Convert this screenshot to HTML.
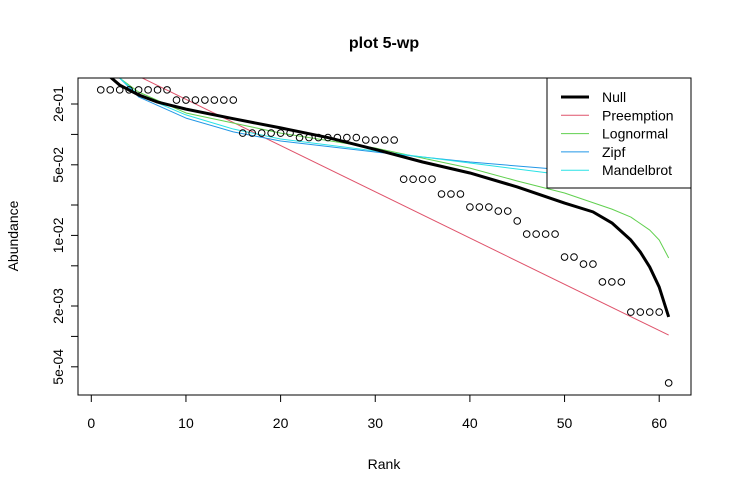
<!DOCTYPE html>
<html><head><meta charset="utf-8"><style>
body{margin:0;background:#fff}
svg{font-family:"Liberation Sans",Arial,sans-serif}
</style></head><body>
<svg width="732" height="493" viewBox="0 0 732 493">
<defs><clipPath id="pc"><rect x="78" y="78" width="613" height="317"/></clipPath></defs>
<rect width="732" height="493" fill="#fff"/>
<text x="384" y="48" text-anchor="middle" font-size="16" font-weight="bold">plot 5-wp</text>
<text x="384" y="469" text-anchor="middle" font-size="14">Rank</text>
<text transform="translate(18,236) rotate(-90)" text-anchor="middle" font-size="14">Abundance</text>
<g id="axes"></g>
<g id="series" clip-path="url(#pc)"></g>
<g id="pts"></g>
<rect x="78" y="78" width="613" height="317" fill="none" stroke="#000"/>
<g id="legend"></g>
</svg>
<script>
const ranksObs = Array.from({length:61},(_,i)=>i+1);
const observed = [0.276,0.276,0.276,0.276,0.276,0.276,0.276,0.276,
0.219,0.219,0.219,0.219,0.219,0.219,0.219,
0.103,0.103,0.103,0.103,0.103,0.103,
0.093,0.093,0.093,0.093,0.093,0.093,0.093,
0.088,0.088,0.088,0.088,
0.036,0.036,0.036,0.036,
0.0257,0.0257,0.0257,
0.0191,0.0191,0.0191,
0.0174,0.0174,
0.0139,
0.0103,0.0103,0.0103,0.0103,
0.00611,0.00611,
0.0052,0.0052,
0.00346,0.00346,0.00346,
0.00174,0.00174,0.00174,0.00174,
0.000346];
const nullRanks = [1,2,3,4,5,7,10,15,20,25,30,35,40,45,50,53,55,57,58,59,60,61];
const nullVals = [0.435,0.370,0.308,0.275,0.246,0.209,0.178,0.143,0.116,0.093,0.071,0.0533,0.0415,0.0302,0.0209,0.0171,0.0133,0.0090,0.00686,0.00486,0.00308,0.00156];
const preRanks = [1,61];
const preVals = [0.574,0.00103];
const lnRanks = [1,2,3,5,10,20,30,40,45,50,55,57,59,60,61];
const lnVals = [0.546,0.454,0.361,0.263,0.163,0.103,0.0733,0.0464,0.0346,0.0263,0.0182,0.0152,0.0113,0.0090,0.00598];
const zRanks = [1,2,3,5,10,15,20,30,40,50,55,61];
const zVals = [0.767,0.486,0.361,0.235,0.145,0.106,0.086,0.067,0.0533,0.0445,0.0415,0.0378];
const mRanks = [1,2,3,5,10,15,20,30,40,50,55,61];
const mVals = [0.686,0.464,0.361,0.246,0.156,0.113,0.090,0.0686,0.0521,0.0396,0.0354,0.0308];
const xTicks = [0,10,20,30,40,50,60];
const yTicks = [0.2,0.1,0.05,0.02,0.01,0.005,0.002,0.001,0.0005];
const yLabels = ["2e-01","","5e-02","","1e-02","","2e-03","","5e-04"];
const legendNames = ["Null","Preemption","Lognormal","Zipf","Mandelbrot"];
const legendColors = ["#000","#DF536B","#61D04F","#2297E6","#28E2E5"];

const NS="http://www.w3.org/2000/svg";
const X = r => 91.3 + r*9.465;
const Y = v => 104 + (Math.log10(0.2)-Math.log10(v))*101;
function mk(tag,attrs,parent){const e=document.createElementNS(NS,tag);for(const k in attrs)e.setAttribute(k,attrs[k]);parent.appendChild(e);return e;}
const axes=document.getElementById('axes');
xTicks.forEach(t=>{
  const l=mk('line',{x1:X(t),x2:X(t),y1:395,y2:402,stroke:'#000'},axes);
  
  
  const tx=mk('text',{x:X(t),y:428,'text-anchor':'middle','font-size':14},axes);
  tx.textContent=t;
  
  
});
mk('line',{x1:X(0),x2:X(60),y1:395,y2:395,stroke:'#000'},axes);
yTicks.forEach((t,i)=>{
  const l=mk('line',{x1:71,x2:78,y1:Y(t),y2:Y(t),stroke:'#000'},axes);
  
  
  if(yLabels[i]){
    const tx=mk('text',{transform:`translate(63,${Y(t)}) rotate(-90)`,'text-anchor':'middle','font-size':14},axes);
    tx.textContent=yLabels[i];
    
    
  }
});
const ser=document.getElementById('series');
function line(rs,vs,col,w,name){
  const p=mk('polyline',{points:rs.map((r,i)=>X(r)+','+Y(vs[i])).join(' '),fill:'none',stroke:col,'stroke-width':w,'stroke-linejoin':'round'},ser);
  
  
}
line(preRanks,preVals,legendColors[1],1,'preemption-line');
line(lnRanks,lnVals,legendColors[2],1,'lognormal-line');
line(zRanks,zVals,legendColors[3],1,'zipf-line');
line(mRanks,mVals,legendColors[4],1,'mandelbrot-line');
line(nullRanks,nullVals,'#000',3,'null-line');
const pts=document.getElementById('pts');
observed.forEach((v,i)=>{
  const c=mk('circle',{cx:X(ranksObs[i]),cy:Y(v),r:3.3,fill:'none',stroke:'#000','stroke-width':1},pts);
  
  
});
const lg=document.getElementById('legend');
const box=mk('rect',{x:547,y:78,width:144,height:110,fill:'#fff',stroke:'#000'},lg);


legendNames.forEach((n,i)=>{
  const y=97+i*18.3;
  const l=mk('line',{x1:561,x2:589,y1:y,y2:y,stroke:legendColors[i],'stroke-width':i==0?3:1},lg);
  
  
  const t=mk('text',{x:602,y:y+5,'font-size':14},lg);
  t.textContent=n;
  
  
});
</script>
</body></html>
